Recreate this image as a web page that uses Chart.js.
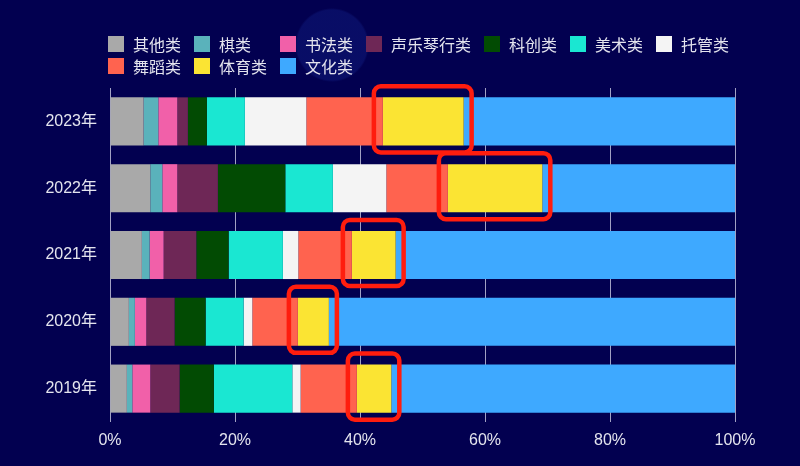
<!DOCTYPE html>
<html lang="zh">
<head>
<meta charset="utf-8">
<title>各类培训机构占比</title>
<script src="https://cdn.jsdelivr.net/npm/chart.js@4/dist/chart.umd.min.js"></script>
<style>
    html, body {
        margin: 0;
        padding: 0;
    }
    body {
        width: 800px;
        height: 466px;
        overflow: hidden;
        background:
            radial-gradient(circle at 332px 45px, rgba(14, 24, 120, 0.55) 0, rgba(14, 24, 120, 0.55) 35px, rgba(2, 0, 80, 0) 37px),
            #020050;
        font-family: 'Liberation Sans', 'Noto Sans CJK SC', sans-serif;
    }
    #wrap {
        position: relative;
        width: 800px;
        height: 466px;
    }
    #legend {
        position: absolute;
        left: 108px;
        top: 36px;
        width: 660px;
        display: flex;
        flex-wrap: wrap;
        row-gap: 6px;
    }
    .legend-item {
        display: flex;
        align-items: center;
        min-width: 73px;
        height: 16px;
        margin-right: 13px;
        color: #e4e4ee;
        font-size: 16px;
        white-space: nowrap;
    }
    .legend-box {
        width: 16px;
        height: 16px;
        margin-right: 9px;
        box-sizing: border-box;
    }
</style>
</head>
<body>
<div id="wrap">
    <canvas id="chart"></canvas>
    <div id="legend"></div>
</div>
<script>
// 年份（从上到下）
const years = ['2023年', '2022年', '2021年', '2020年', '2019年'];
const xTicks = [0, 20, 40, 60, 80, 100];

// 各类占比 (%)
const qita     = [5.38, 6.45, 5.10, 3.02, 2.70];
const qi       = [2.35, 1.92, 1.24, 0.96, 0.87];
const shufa    = [3.04, 2.40, 2.24, 1.83, 2.88];
const shengyue = [1.69, 6.49, 5.23, 4.53, 4.69];
const kechuang = [3.04, 10.79, 5.17, 4.96, 5.48];
const meishu   = [6.08, 7.61, 8.68, 6.08, 12.55];
const tuoguan  = [9.83, 8.55, 2.47, 1.39, 1.33];
const wudao    = [12.25, 9.85, 8.57, 7.29, 9.00];
const tiyu     = [12.92, 15.11, 7.00, 4.96, 5.51];
const wenhua   = [43.42, 30.83, 54.30, 64.98, 54.99];

const seriesNames = ['其他类', '棋类', '书法类', '声乐琴行类', '科创类', '美术类', '托管类', '舞蹈类', '体育类', '文化类'];
const seriesData = [qita, qi, shufa, shengyue, kechuang, meishu, tuoguan, wudao, tiyu, wenhua];
const seriesColors = ['#a9a9a9', '#5ab2bb', '#f160a9', '#6e2756', '#024b03', '#1ae7d2', '#f4f4f4', '#ff634f', '#fbe433', '#3ea9ff'];

// 红框标注的系列（体育类）
const HIGHLIGHT_INDEX = 8;
const TEXT_COLOR = '#e4e4ee';

function buildLegend() {
    const legend = document.getElementById('legend');
    seriesNames.forEach((name, i) => {
        const item = document.createElement('div');
        item.className = 'legend-item';
        const box = document.createElement('span');
        box.className = 'legend-box';
        box.style.background = seriesColors[i];
        const label = document.createElement('span');
        label.textContent = name;
        item.appendChild(box);
        item.appendChild(label);
        legend.appendChild(item);
    });
}

const highlightBoxes = {
    id: 'highlightBoxes',
    afterDatasetsDraw(chart) {
        const meta = chart.getDatasetMeta(HIGHLIGHT_INDEX);
        const ctx = chart.ctx;
        ctx.save();
        ctx.strokeStyle = '#ff1d0e';
        ctx.lineWidth = 4.5;
        ctx.lineJoin = 'round';
        meta.data.forEach(bar => {
            const { x, base, y, height } = bar.getProps(['x', 'base', 'y', 'height'], true);
            const left = Math.min(x, base) - 9;
            const right = Math.max(x, base) + 8;
            const top = y - height / 2 - 11;
            const bottom = y + height / 2 + 7;
            ctx.beginPath();
            ctx.roundRect(left, top, right - left, bottom - top, 7);
            ctx.stroke();
        });
        ctx.restore();
    }
};

function createChart() {
    const datasets = seriesNames.map((name, i) => ({
        label: name,
        data: seriesData[i],
        backgroundColor: seriesColors[i],
        borderWidth: 0,
        barPercentage: 0.72,
        categoryPercentage: 1
    }));

    const ctx = document.getElementById('chart').getContext('2d');
    return new Chart(ctx, {
        type: 'bar',
        data: {
            labels: years,
            datasets: datasets
        },
        options: {
            indexAxis: 'y',
            responsive: true,
            maintainAspectRatio: false,
            animation: false,
            layout: {
                padding: { top: 88, right: 65, bottom: 0, left: 0 }
            },
            plugins: {
                legend: { display: false },
                tooltip: { enabled: false }
            },
            scales: {
                x: {
                    stacked: true,
                    min: 0,
                    max: 100,
                    afterFit: scale => { scale.height = 44; },
                    afterBuildTicks: scale => {
                        scale.ticks = xTicks.map(v => ({ value: v }));
                    },
                    grid: {
                        color: 'rgba(215, 215, 235, 0.75)',
                        lineWidth: 1,
                        drawTicks: false
                    },
                    border: { display: false },
                    ticks: {
                        color: TEXT_COLOR,
                        padding: 9,
                        font: { size: 16, family: "'Liberation Sans', 'Noto Sans CJK SC', sans-serif" },
                        callback: value => value + '%'
                    }
                },
                y: {
                    stacked: true,
                    afterFit: scale => { scale.width = 110; },
                    grid: { display: false, drawTicks: false },
                    border: { display: false },
                    ticks: {
                        color: TEXT_COLOR,
                        padding: 13,
                        font: { size: 16, family: "'Liberation Sans', 'Noto Sans CJK SC', sans-serif" }
                    }
                }
            }
        },
        plugins: [highlightBoxes]
    });
}

buildLegend();
createChart();
</script>
</body>
</html>
